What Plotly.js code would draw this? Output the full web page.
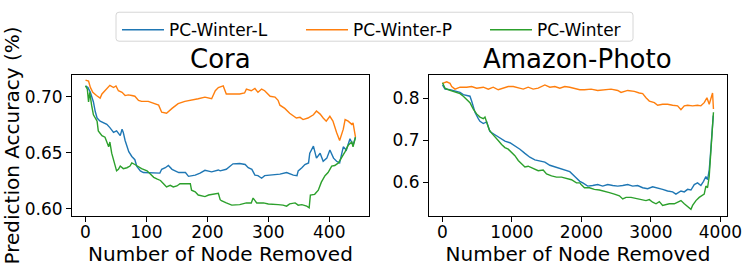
<!DOCTYPE html>
<html>
<head>
<meta charset="utf-8">
<script src="https://cdn.plot.ly/plotly-3.0.1.min.js"></script>
<style>html,body{margin:0;padding:0;background:#fff;}#chart{width:748px;height:266px;}</style>
</head>
<body>
<div id="chart"></div>
<script>
// ---- Cora ----
var coraP_x = [0,5,8,12,18,24,27,32,40,46,50,54,60,65,70,76,81,87,92,103,109,114,120,125,133,142,152,163,174,185,196,207,213,218,226,231,242,253,261,264,272,278,283,289,294,303,311,316,319,327,335,341,346,352,357,365,374,379,385,390,395,401,406,412,417,423,426,431,437,439,442,443];
var coraP_y = [0.7150,0.7141,0.7085,0.7041,0.7012,0.6989,0.7026,0.7055,0.7104,0.7084,0.7098,0.7055,0.7041,0.7012,0.7018,0.7012,0.7006,0.6969,0.6960,0.6960,0.6949,0.6940,0.6926,0.6863,0.6854,0.6897,0.6940,0.6960,0.6969,0.6983,0.6998,0.6983,0.7055,0.7084,0.7098,0.7026,0.7026,0.7026,0.7035,0.7070,0.7055,0.7075,0.7041,0.7070,0.7055,0.7006,0.6998,0.6969,0.6926,0.6897,0.6854,0.6826,0.6811,0.6817,0.6797,0.6811,0.6840,0.6874,0.6846,0.6811,0.6783,0.6826,0.6783,0.6682,0.6610,0.6711,0.6797,0.6783,0.6754,0.6768,0.6653,0.6640];

var coraL_x = [0,4,8,13,16,19,24,30,35,40,46,51,57,60,62,65,71,76,81,84,90,95,109,122,125,131,136,142,153,164,169,180,188,196,207,218,221,231,242,253,262,267,273,278,283,289,294,303,311,319,330,341,347,349,355,360,366,368,374,379,385,390,396,401,407,412,417,423,428,434,439,443];
var coraL_y = [0.7098,0.7084,0.7041,0.6955,0.6869,0.6811,0.6783,0.6768,0.6754,0.6725,0.6682,0.6696,0.6653,0.6711,0.6682,0.6610,0.6510,0.6467,0.6438,0.6381,0.6338,0.6323,0.6318,0.6318,0.6352,0.6366,0.6386,0.6352,0.6323,0.6323,0.6289,0.6300,0.6318,0.6343,0.6329,0.6346,0.6338,0.6352,0.6401,0.6404,0.6395,0.6366,0.6352,0.6300,0.6295,0.6272,0.6295,0.6300,0.6300,0.6309,0.6323,0.6300,0.6295,0.6338,0.6366,0.6395,0.6409,0.6496,0.6559,0.6452,0.6496,0.6424,0.6452,0.6524,0.6452,0.6424,0.6409,0.6553,0.6524,0.6625,0.6567,0.6639];

var coraW_x = [0,3,5,7,10,13,19,21,27,32,38,40,43,46,49,51,54,57,62,68,73,76,81,87,92,101,106,112,117,123,128,133,139,144,150,155,164,172,174,180,185,191,196,202,207,213,218,221,223,231,240,253,264,272,275,281,292,300,308,316,324,330,335,344,349,355,363,367,369,376,382,387,393,398,404,409,415,420,426,431,437,439,443];
var coraW_y = [0.7098,0.7070,0.6955,0.7041,0.6926,0.6840,0.6783,0.6696,0.6653,0.6639,0.6553,0.6596,0.6496,0.6438,0.6395,0.6338,0.6352,0.6381,0.6358,0.6366,0.6381,0.6409,0.6395,0.6375,0.6358,0.6338,0.6309,0.6280,0.6266,0.6252,0.6223,0.6194,0.6209,0.6194,0.6203,0.6223,0.6223,0.6223,0.6165,0.6151,0.6122,0.6117,0.6108,0.6122,0.6128,0.6137,0.6137,0.6080,0.6071,0.6051,0.6031,0.6036,0.6051,0.6051,0.6094,0.6051,0.6051,0.6042,0.6036,0.6036,0.6031,0.6022,0.6042,0.6051,0.6031,0.6036,0.6022,0.6008,0.6122,0.6128,0.6165,0.6237,0.6295,0.6323,0.6381,0.6386,0.6409,0.6452,0.6510,0.6567,0.6596,0.6553,0.6639];

// ---- Amazon-Photo ----
var amzP_x = [0,60,108,132,180,252,347,419,491,587,659,730,802,874,946,1018,1090,1162,1233,1305,1377,1473,1545,1617,1688,1760,1832,1904,1976,2043,2139,2234,2330,2426,2522,2570,2666,2761,2833,2881,2929,2977,3049,3097,3168,3240,3312,3384,3432,3480,3528,3600,3671,3719,3767,3806,3839,3863,3887,3900];
var amzP_y = [0.8350,0.8389,0.8351,0.8275,0.8214,0.8260,0.8260,0.8275,0.8237,0.8260,0.8214,0.8260,0.8199,0.8237,0.8275,0.8275,0.8237,0.8214,0.8260,0.8214,0.8237,0.8313,0.8260,0.8275,0.8237,0.8275,0.8260,0.8237,0.8199,0.8199,0.8214,0.8183,0.8199,0.8214,0.8183,0.8137,0.8183,0.8160,0.8122,0.8107,0.8008,0.7931,0.7893,0.7832,0.7855,0.7855,0.7832,0.7817,0.7725,0.7817,0.7832,0.7817,0.7832,0.7817,0.7893,0.8008,0.7855,0.8008,0.8122,0.7741];

var amzL_x = [0,36,108,180,252,299,347,395,419,443,467,515,539,587,635,659,683,754,826,898,970,1042,1114,1186,1257,1329,1401,1473,1545,1617,1688,1760,1832,1904,1976,2019,2090,2162,2234,2306,2378,2450,2522,2594,2666,2737,2809,2881,2953,3025,3097,3168,3240,3312,3360,3432,3480,3528,3576,3624,3671,3719,3757,3791,3815,3839,3854,3873,3887,3897];
var amzL_y = [0.8313,0.8214,0.8199,0.8160,0.8137,0.8084,0.8061,0.8046,0.7931,0.7817,0.7664,0.7512,0.7451,0.7397,0.7436,0.7321,0.7207,0.7130,0.7054,0.6978,0.6940,0.6863,0.6787,0.6688,0.6596,0.6535,0.6505,0.6482,0.6405,0.6367,0.6329,0.6291,0.6253,0.6138,0.6024,0.5986,0.5910,0.5925,0.5948,0.5910,0.5948,0.5925,0.5910,0.5925,0.5948,0.5910,0.5925,0.5871,0.5848,0.5894,0.5871,0.5833,0.5795,0.5772,0.5719,0.5795,0.5772,0.5833,0.5818,0.5948,0.5986,0.5925,0.6024,0.6138,0.6062,0.6291,0.6596,0.7054,0.7436,0.7588];

var amzW_x = [0,36,108,180,252,299,347,395,443,491,539,587,611,635,673,707,754,802,850,898,946,994,1042,1090,1138,1186,1233,1305,1377,1449,1497,1569,1641,1713,1784,1856,1928,1976,1995,2043,2115,2186,2258,2330,2402,2474,2546,2594,2642,2713,2785,2857,2929,2977,3025,3073,3121,3168,3216,3264,3336,3384,3432,3480,3528,3576,3600,3648,3695,3743,3767,3791,3815,3839,3863,3877,3892,3900];
var amzW_y = [0.8366,0.8237,0.8183,0.8137,0.8107,0.8046,0.7970,0.7893,0.7741,0.7626,0.7550,0.7512,0.7550,0.7436,0.7245,0.7168,0.7092,0.6993,0.6901,0.6825,0.6787,0.6711,0.6634,0.6520,0.6444,0.6367,0.6383,0.6329,0.6276,0.6291,0.6200,0.6154,0.6123,0.6123,0.6100,0.6062,0.5986,0.5986,0.5948,0.5871,0.5871,0.5833,0.5818,0.5795,0.5757,0.5719,0.5681,0.5604,0.5642,0.5642,0.5620,0.5589,0.5566,0.5589,0.5528,0.5490,0.5543,0.5452,0.5467,0.5490,0.5490,0.5528,0.5566,0.5490,0.5414,0.5360,0.5452,0.5566,0.5642,0.5681,0.5719,0.5910,0.5871,0.6138,0.6673,0.7054,0.7436,0.7664];

var seriesNames = ['PC-Winter-L', 'PC-Winter-P', 'PC-Winter'];
var subplotTitles = ['Cora', 'Amazon-Photo'];
var xTitle = 'Number of Node Removed';
var yTitle = 'Prediction Accuracy (%)';

var colors = ['#1f77b4', '#ff7f0e', '#2ca02c'];
var FONT = 'DejaVu Sans, Verdana, sans-serif';
var lw = 1.4;

function tr(x, y, i, xa, ya, show) {
  return {x: x, y: y, type: 'scatter', mode: 'lines', name: seriesNames[i],
    line: {color: colors[i], width: lw}, xaxis: xa, yaxis: ya, showlegend: show,
    hoverinfo: 'skip'};
}

var data = [
  tr(coraL_x, coraL_y, 0, 'x', 'y', true),
  tr(coraP_x, coraP_y, 1, 'x', 'y', true),
  tr(coraW_x, coraW_y, 2, 'x', 'y', true),
  tr(amzL_x, amzL_y, 0, 'x2', 'y2', false),
  tr(amzP_x, amzP_y, 1, 'x2', 'y2', false),
  tr(amzW_x, amzW_y, 2, 'x2', 'y2', false)
];

var axBase = {
  showgrid: false, zeroline: false, showline: true, mirror: true,
  linecolor: '#000', linewidth: 1, ticks: 'outside', ticklen: 5, tickwidth: 1,
  tickcolor: '#000', tickfont: {family: FONT, size: 17, color: '#000'}
};
function ax(extra) { return Object.assign({}, axBase, extra); }

// legend frame (rounded box) in paper coords
var lx0 = 0.0672, lx1 = 0.8565, ly0 = 1.2397, ly1 = 1.4452, rx = 0.0046, ry = 0.0205;
var legendBox = 'M' + (lx0 + rx) + ',' + ly1 + ' L' + (lx1 - rx) + ',' + ly1 +
  ' Q' + lx1 + ',' + ly1 + ' ' + lx1 + ',' + (ly1 - ry) + ' L' + lx1 + ',' + (ly0 + ry) +
  ' Q' + lx1 + ',' + ly0 + ' ' + (lx1 - rx) + ',' + ly0 + ' L' + (lx0 + rx) + ',' + ly0 +
  ' Q' + lx0 + ',' + ly0 + ' ' + lx0 + ',' + (ly0 + ry) + ' L' + lx0 + ',' + (ly1 - ry) +
  ' Q' + lx0 + ',' + ly1 + ' ' + (lx0 + rx) + ',' + ly1 + ' Z';

var layout = {
  width: 748, height: 266,
  margin: {l: 72, r: 21, t: 70, b: 50, pad: 0},
  paper_bgcolor: '#fff', plot_bgcolor: '#fff',
  font: {family: FONT, color: '#000'},
  xaxis: ax({domain: [0, 0.4534], range: [-22.15, 465.15], tick0: 0, dtick: 100, ticklabelstandoff: -4,
    title: {text: xTitle, font: {family: FONT, size: 20, color: '#000'}, standoff: 4}}),
  yaxis: ax({domain: [0, 1], range: [0.5934, 0.7196], tick0: 0.6, dtick: 0.05, tickformat: '.2f',
    title: {text: yTitle, font: {family: FONT, size: 20, color: '#000'}, standoff: 9}}),
  xaxis2: ax({domain: [0.545, 1], range: [-195, 4095], tick0: 0, dtick: 1000, anchor: 'y2', ticklabelstandoff: -4,
    title: {text: xTitle, font: {family: FONT, size: 20, color: '#000'}, standoff: 4}}),
  yaxis2: ax({domain: [0, 1], range: [0.520, 0.855], tick0: 0.6, dtick: 0.1, tickformat: '.1f', anchor: 'x2'}),
  showlegend: true,
  legend: {orientation: 'h', x: 0.0687, xanchor: 'left', y: 1.445, yanchor: 'top',
    font: {family: FONT, size: 17, color: '#000'}, borderwidth: 0,
    bgcolor: 'rgba(0,0,0,0)', itemwidth: 42, entrywidth: 127, entrywidthmode: 'pixels'},
  shapes: [
    {type: 'path', xref: 'paper', yref: 'paper', path: legendBox,
      line: {color: '#d6d6d6', width: 1}, fillcolor: 'rgba(255,255,255,0.8)', layer: 'below'}
  ],
  annotations: [
    {text: subplotTitles[0], xref: 'x domain', yref: 'paper', x: 0.5, y: 1.11, xanchor: 'center', yanchor: 'middle',
      showarrow: false, font: {family: FONT, size: 26, color: '#000'}},
    {text: subplotTitles[1], xref: 'x2 domain', yref: 'paper', x: 0.5, y: 1.11, xanchor: 'center', yanchor: 'middle',
      showarrow: false, font: {family: FONT, size: 26, color: '#000'}}
  ]
};

Plotly.newPlot('chart', data, layout, {staticPlot: true, displayModeBar: false});
</script>
</body>
</html>
